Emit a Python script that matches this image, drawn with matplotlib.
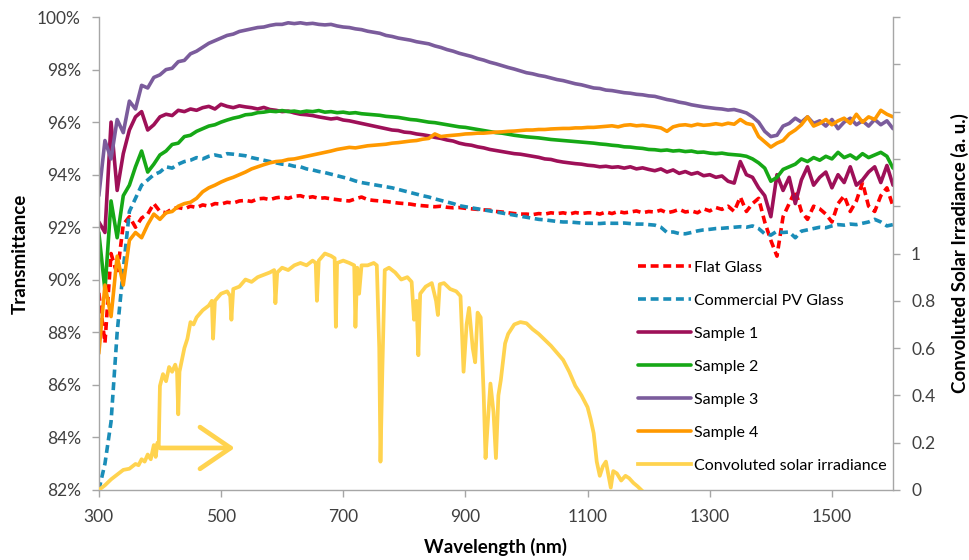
import matplotlib
matplotlib.use("Agg")
import matplotlib.pyplot as plt
import numpy as np
from matplotlib.ticker import FixedLocator, FuncFormatter

plt.rcParams["font.family"] = ["Lato", "DejaVu Sans"]

# transmittance spectra, sampled every 10 nm from 300 to 1600 nm
wavelength = np.arange(300, 1601, 10)

flat_glass = [
    89.5, 87.6, 91.0, 90.2, 92.1, 92.4, 92.0, 92.35, 92.5, 92.9,
    92.6, 92.55, 92.7, 92.75, 92.7, 92.8, 92.75, 92.85, 92.8, 92.9,
    92.88, 92.95, 92.92, 93.0, 93.02, 92.98, 93.08, 93.1, 93.05, 93.12,
    93.15, 93.1, 93.18, 93.2, 93.12, 93.16, 93.1, 93.12, 93.08, 93.05,
    93.02, 93.0, 93.08, 93.15, 93.05, 93.02, 93.0, 92.98, 92.95, 92.92,
    92.9, 92.88, 92.84, 92.82, 92.8, 92.78, 92.8, 92.76, 92.74, 92.75,
    92.72, 92.7, 92.68, 92.66, 92.65, 92.6, 92.58, 92.55, 92.52, 92.5,
    92.5, 92.48, 92.52, 92.5, 92.55, 92.52, 92.55, 92.5, 92.56, 92.52,
    92.55, 92.55, 92.5, 92.58, 92.52, 92.6, 92.55, 92.58, 92.62, 92.55,
    92.6, 92.58, 92.65, 92.55, 92.6, 92.68, 92.58, 92.62, 92.55, 92.7,
    92.62, 92.75, 92.68, 92.8, 92.6, 93.15, 92.6, 92.9, 93.1, 92.2,
    91.5, 90.9, 92.4, 92.9, 93.4, 92.6, 92.3, 92.8, 92.7, 92.5,
    92.2, 92.9, 93.2, 92.6, 93.0, 93.7, 92.8, 92.6, 93.2, 93.5,
    92.8,
]

pv_glass = [
    82.0, 83.0, 84.6, 88.0, 90.4, 92.6, 93.1, 93.6, 93.8, 94.0,
    94.1, 94.3, 94.25, 94.4, 94.5, 94.55, 94.65, 94.6, 94.7, 94.75,
    94.7, 94.8, 94.78, 94.75, 94.72, 94.65, 94.6, 94.55, 94.5, 94.45,
    94.4, 94.38, 94.32, 94.3, 94.22, 94.18, 94.12, 94.08, 94.02, 93.96,
    93.9, 93.84, 93.76, 93.7, 93.66, 93.62, 93.58, 93.54, 93.5, 93.44,
    93.38, 93.32, 93.26, 93.2, 93.15, 93.08, 93.02, 92.96, 92.9, 92.82,
    92.78, 92.74, 92.7, 92.66, 92.62, 92.58, 92.54, 92.5, 92.46, 92.42,
    92.38, 92.34, 92.3, 92.28, 92.25, 92.22, 92.2, 92.2, 92.18, 92.16,
    92.15, 92.15, 92.14, 92.16, 92.15, 92.15, 92.16, 92.14, 92.12, 92.12,
    92.1, 92.08, 92.0, 91.8, 91.82, 91.76, 91.75, 91.8, 91.86, 91.9,
    91.92, 91.95, 91.96, 91.98, 92.0, 92.02, 92.0, 92.05, 91.95, 91.75,
    91.7, 91.85, 91.8, 91.82, 91.6, 91.85, 91.9, 91.95, 92.0, 91.98,
    92.05, 92.1, 92.08, 92.12, 92.1, 92.15, 92.2, 92.3, 92.2, 92.05,
    92.1,
]

sample_1 = [
    92.2, 91.8, 96.0, 93.4, 94.8, 95.7, 96.2, 96.4, 95.7, 95.9,
    96.2, 96.3, 96.25, 96.45, 96.4, 96.5, 96.45, 96.55, 96.6, 96.5,
    96.68, 96.6, 96.55, 96.62, 96.58, 96.55, 96.5, 96.56, 96.48, 96.45,
    96.4, 96.42, 96.35, 96.3, 96.28, 96.25, 96.2, 96.16, 96.12, 96.15,
    96.08, 96.05, 96.0, 95.95, 95.9, 95.85, 95.8, 95.75, 95.7, 95.68,
    95.62, 95.6, 95.55, 95.52, 95.48, 95.42, 95.38, 95.32, 95.28, 95.2,
    95.15, 95.12, 95.06, 95.02, 94.96, 94.92, 94.88, 94.84, 94.8, 94.78,
    94.74, 94.7, 94.66, 94.6, 94.58, 94.52, 94.48, 94.45, 94.42, 94.4,
    94.36, 94.34, 94.3, 94.32, 94.28, 94.3, 94.25, 94.3, 94.22, 94.26,
    94.2, 94.15, 94.22, 94.1, 94.18, 94.05, 94.12, 94.02, 94.08, 93.96,
    94.0, 93.9, 93.95, 93.75, 93.68, 94.5, 94.0, 93.9, 93.5, 93.2,
    92.4, 94.0, 93.4, 93.9, 92.9, 93.8, 94.3, 93.6, 93.9, 94.1,
    93.5, 94.0, 93.7, 94.3, 93.6, 93.8, 94.1, 94.3, 93.7, 94.35,
    93.6,
]

sample_2 = [
    91.8, 89.6, 93.0, 91.6, 93.2, 93.6, 94.3, 94.9, 94.1, 94.4,
    94.75, 94.9, 95.15, 95.2, 95.45, 95.5, 95.65, 95.75, 95.85, 95.9,
    96.0, 96.08, 96.15, 96.2, 96.28, 96.3, 96.36, 96.38, 96.42, 96.4,
    96.44, 96.4, 96.42, 96.38, 96.42, 96.4, 96.44, 96.38, 96.4, 96.36,
    96.38, 96.34, 96.36, 96.32, 96.3, 96.28, 96.26, 96.22, 96.2, 96.18,
    96.14, 96.1, 96.08, 96.04, 96.0, 95.98, 95.94, 95.9, 95.86, 95.82,
    95.8, 95.76, 95.72, 95.68, 95.64, 95.6, 95.58, 95.54, 95.5, 95.47,
    95.44, 95.42, 95.4, 95.37, 95.34, 95.32, 95.3, 95.28, 95.26, 95.24,
    95.22, 95.2, 95.17, 95.15, 95.12, 95.1, 95.06, 95.05, 95.02, 95.0,
    94.96, 94.95, 94.92, 94.94, 94.9, 94.92, 94.88, 94.9, 94.85, 94.86,
    94.82, 94.8, 94.82, 94.78, 94.76, 94.74, 94.7, 94.6, 94.45, 94.25,
    93.75, 93.9, 94.2, 94.3, 94.4, 94.6, 94.5, 94.65, 94.55, 94.7,
    94.6, 94.85, 94.65, 94.75, 94.6, 94.8, 94.65, 94.75, 94.85, 94.7,
    94.25,
]

sample_3 = [
    93.2, 95.3, 94.6, 96.1, 95.6, 96.8, 96.5, 97.4, 97.3, 97.7,
    97.8, 98.0, 98.05, 98.3, 98.35, 98.6, 98.7, 98.85, 99.0, 99.1,
    99.2, 99.3, 99.35, 99.45, 99.5, 99.55, 99.6, 99.62, 99.68, 99.72,
    99.72, 99.78, 99.75, 99.78, 99.74, 99.76, 99.72, 99.7, 99.72, 99.66,
    99.62, 99.6, 99.55, 99.52, 99.46, 99.42, 99.38, 99.3, 99.26, 99.2,
    99.16, 99.12, 99.06, 99.02, 98.98, 98.9, 98.84, 98.76, 98.7, 98.62,
    98.56, 98.5, 98.42, 98.36, 98.28, 98.22, 98.15, 98.08, 98.02, 97.95,
    97.88, 97.84, 97.78, 97.74, 97.68, 97.62, 97.58, 97.52, 97.46, 97.42,
    97.36, 97.3, 97.28, 97.22, 97.2, 97.16, 97.12, 97.1, 97.06, 97.04,
    97.0, 96.98, 96.92, 96.86, 96.82, 96.76, 96.72, 96.66, 96.62, 96.58,
    96.55, 96.52, 96.5, 96.46, 96.48, 96.42, 96.35, 96.2, 96.0, 95.65,
    95.45, 95.5, 95.85, 95.95, 96.15, 96.0, 96.2, 95.95, 96.05, 95.85,
    96.1, 95.75, 96.0, 96.15, 95.9, 96.05, 95.85, 96.1, 95.9, 96.05,
    95.75,
]

sample_4 = [
    87.2, 89.8, 88.6, 90.9, 89.8, 91.5, 91.8, 91.6, 92.1, 92.5,
    92.3, 92.55, 92.6, 92.8, 92.9, 92.95, 93.1, 93.35, 93.5, 93.6,
    93.72, 93.82, 93.9, 94.0, 94.1, 94.22, 94.3, 94.38, 94.45, 94.5,
    94.52, 94.58, 94.6, 94.65, 94.7, 94.75, 94.8, 94.85, 94.9, 94.96,
    95.0, 95.04, 95.02, 95.06, 95.1, 95.12, 95.14, 95.16, 95.2, 95.22,
    95.25, 95.28, 95.3, 95.35, 95.38, 95.55, 95.45, 95.48, 95.5, 95.52,
    95.55, 95.56, 95.58, 95.58, 95.6, 95.62, 95.63, 95.65, 95.66, 95.68,
    95.7, 95.7, 95.72, 95.72, 95.74, 95.75, 95.76, 95.76, 95.78, 95.78,
    95.8, 95.8, 95.82, 95.84, 95.86, 95.82, 95.88, 95.9, 95.86, 95.88,
    95.85, 95.82, 95.78, 95.65, 95.82, 95.88, 95.9, 95.86, 95.92, 95.88,
    95.9, 95.94, 95.9, 95.96, 95.92, 96.1, 95.95, 95.9, 95.45, 95.25,
    95.05, 95.2, 95.3, 95.55, 95.7, 95.9, 96.2, 95.85, 95.95, 96.1,
    95.9, 96.05, 96.15, 95.95, 96.3, 96.0, 96.2, 96.1, 96.45, 96.3,
    96.2,
]

# convoluted solar irradiance (right axis)
solar_nm = [
    300, 310, 320, 330, 340, 350, 360, 365, 370, 375,
    380, 385, 390, 393, 396, 398, 400, 405, 410, 415,
    420, 425, 428, 430, 432, 440, 445, 450, 455, 460,
    470, 480, 485, 487, 490, 500, 510, 515, 517, 520,
    530, 540, 550, 560, 570, 580, 587, 589, 592, 600,
    610, 620, 630, 640, 650, 655, 657, 660, 670, 680,
    686, 688, 690, 700, 710, 718, 720, 723, 726, 730,
    740, 750, 755, 759, 761, 764, 768, 775, 785, 795,
    805, 812, 816, 820, 823, 826, 835, 845, 852, 855,
    858, 865, 875, 885, 892, 897, 902, 906, 912, 916,
    920, 925, 930, 933, 937, 941, 946, 950, 954, 958,
    965, 970, 980, 990, 1000, 1010, 1020, 1030, 1040, 1050,
    1060, 1070, 1080, 1090, 1100, 1105, 1110, 1115, 1120, 1125,
    1130, 1135, 1138, 1142, 1148, 1155, 1162, 1168, 1175, 1182,
    1188,
]
solar_irr = [
    0.0, 0.02, 0.045, 0.065, 0.085, 0.09, 0.11, 0.105, 0.13, 0.12,
    0.15, 0.13, 0.19, 0.14, 0.2, 0.18, 0.44, 0.49, 0.46, 0.52,
    0.5, 0.53, 0.5, 0.32, 0.5, 0.6, 0.64, 0.71, 0.7, 0.73,
    0.76, 0.78, 0.8, 0.64, 0.8, 0.83, 0.84, 0.82, 0.72, 0.85,
    0.86, 0.89, 0.88, 0.9, 0.91, 0.92, 0.93, 0.79, 0.92, 0.94,
    0.93, 0.95, 0.96, 0.95, 0.97, 0.96, 0.8, 0.97, 1.0, 0.99,
    0.98, 0.69, 0.96, 0.97, 0.96, 0.95, 0.69, 0.94, 0.83, 0.95,
    0.95, 0.96, 0.95, 0.6, 0.12, 0.5, 0.93, 0.94, 0.92, 0.89,
    0.9, 0.88, 0.72, 0.8, 0.57, 0.83, 0.86, 0.875, 0.8, 0.74,
    0.87, 0.875, 0.85, 0.84, 0.82, 0.5, 0.7, 0.77, 0.6, 0.54,
    0.75, 0.73, 0.4, 0.135, 0.3, 0.45, 0.33, 0.135, 0.4, 0.465,
    0.62, 0.66, 0.7, 0.71, 0.705, 0.68, 0.66, 0.635, 0.61, 0.58,
    0.55, 0.5, 0.44, 0.4, 0.35, 0.3, 0.24, 0.12, 0.06, 0.1,
    0.12, 0.05, 0.01, 0.08, 0.07, 0.04, 0.06, 0.05, 0.03, 0.015,
    0.0,
]

series = [
    ("Flat Glass", flat_glass, "#FF0000", "--"),
    ("Commercial PV Glass", pv_glass, "#1A8DB8", "--"),
    ("Sample 1", sample_1, "#9E1058", "-"),
    ("Sample 2", sample_2, "#16A816", "-"),
    ("Sample 3", sample_3, "#7B5C9C", "-"),
    ("Sample 4", sample_4, "#FF9900", "-"),
]
solar_color = "#FFD34F"
axis_color = "#A6A6A6"
text_color = "#404040"

fig = plt.figure(figsize=(9.69, 5.6), dpi=100)
ax = fig.add_axes([0.102, 0.125, 0.8196, 0.8446])
ax2 = ax.twinx()

handles = []
for name, vals, color, ls in series:
    line, = ax.plot(wavelength, vals, color=color, ls=ls, lw=2.6, label=name,
                    dashes=(2.2, 1.3) if ls == "--" else (None, None),
                    solid_capstyle="round")
    handles.append(line)

sl, = ax2.plot(solar_nm, solar_irr, color=solar_color, lw=2.7,
               label="Convoluted solar irradiance")
handles.append(sl)

# arrow pointing to the right-hand axis
ax.annotate("", xy=(527, 83.6), xytext=(396, 83.6),
            arrowprops=dict(arrowstyle="->,head_length=1.1,head_width=0.75",
                            color=solar_color, lw=3.4, mutation_scale=20))

ax.set_xlim(300, 1600)
ax.set_ylim(82, 100)
ax2.set_ylim(0, 2)
ax.xaxis.set_major_locator(FixedLocator(np.arange(300, 1501, 200)))
ax.yaxis.set_major_locator(FixedLocator(np.arange(82, 100.1, 2)))
ax.yaxis.set_major_formatter(FuncFormatter(lambda v, p: f"{v:.0f}%"))
ax2.yaxis.set_major_locator(FixedLocator(np.arange(0, 2.01, 0.2)))
ax2.yaxis.set_major_formatter(
    FuncFormatter(lambda v, p: (f"{v:g}" if v <= 1.001 else "")))

for a in (ax, ax2):
    a.spines["top"].set_visible(False)
    for s in ("left", "right", "bottom"):
        a.spines[s].set_color(axis_color)
        a.spines[s].set_linewidth(1.0)
    a.tick_params(colors=axis_color, labelcolor=text_color, labelsize=12.5,
                  length=5, width=1.0, direction="out", pad=8)
ax.tick_params(axis="x", pad=9)
ax.spines["right"].set_visible(False)
ax2.spines["left"].set_visible(False)
ax2.spines["bottom"].set_visible(False)

ax.set_xlabel("Wavelength (nm)", fontsize=13.5, fontweight="bold", labelpad=9)
ax.set_ylabel("Transmittance", fontsize=13.5, fontweight="bold", labelpad=6)
ax2.set_ylabel("Convoluted Solar Irradiance (a. u.)", fontsize=13.5,
               fontweight="bold", labelpad=11)

ax2.legend(handles=handles, loc="upper left", bbox_to_anchor=(0.652, 0.546),
           bbox_transform=fig.transFigure, frameon=False, fontsize=11.5,
           handlelength=3.3, handletextpad=0.2, labelspacing=1.18,
           borderaxespad=0)

fig.savefig("out.png", dpi=100)
